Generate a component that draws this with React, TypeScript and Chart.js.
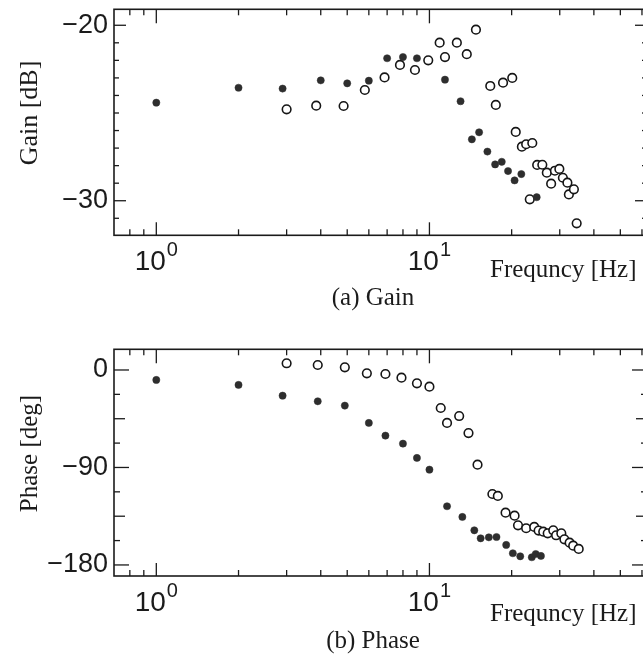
import React, { useEffect, useRef } from "react";
import { Chart, registerables } from "chart.js";

Chart.register(...registerables);

// ---------- data ----------
const gainFilledFreq = [1, 2, 2.9, 4, 5, 6, 7, 8, 9, 11.4, 13, 14.3, 15.2, 16.3, 17.4, 18.4, 19.4, 20.5, 21.7, 24.7];
const gainFilledDb = [-24.41, -23.56, -23.61, -23.14, -23.31, -23.16, -21.88, -21.81, -21.88, -23.1, -24.33, -26.5, -26.1, -27.2, -27.93, -27.78, -28.31, -28.84, -28.48, -29.8];

const gainOpenFreq = [3.0, 3.85, 4.85, 5.8, 6.85, 7.8, 8.85, 9.9, 10.9, 11.4, 12.6, 13.7, 14.8, 16.7, 17.5, 18.6, 20.1, 20.7, 21.8, 22.6, 23.3, 23.8, 24.8, 25.9, 26.9, 27.9, 28.8, 29.9, 30.8, 32.0, 32.4, 33.8, 34.6];
const gainOpenDb = [-24.79, -24.58, -24.6, -23.69, -22.97, -22.26, -22.55, -22.0, -20.99, -21.81, -20.99, -21.65, -20.25, -23.46, -24.54, -23.27, -23.0, -26.08, -26.92, -26.78, -29.92, -26.71, -27.96, -27.95, -28.4, -29.03, -28.29, -28.19, -28.69, -28.97, -29.64, -29.35, -31.29];

const phaseFilledFreq = [1, 2, 2.9, 3.9, 4.9, 6, 6.9, 8, 9, 10, 11.6, 13.2, 14.6, 15.4, 16.5, 17.6, 19.1, 20.2, 21.5, 23.7, 24.5, 25.6];
const phaseFilledDeg = [-9.2, -13.8, -23.7, -28.9, -32.9, -48.9, -60.6, -68, -81.2, -92, -125.8, -135.7, -148, -155.4, -154.5, -154.2, -161.5, -169.2, -172, -172.9, -169.9, -171.7];

const phaseOpenFreq = [3.0, 3.9, 4.9, 5.9, 6.9, 7.9, 9.0, 10.0, 11.0, 11.6, 12.85, 13.9, 15.0, 17.0, 17.8, 19.0, 20.5, 21.1, 22.6, 24.2, 25.1, 26.1, 27.1, 28.4, 29.1, 30.4, 31.2, 32.6, 33.6, 35.2];
const phaseOpenDeg = [6.2, 4.6, 2.5, -3.1, -3.7, -7.1, -12.3, -15.4, -35.1, -48.9, -42.5, -58.2, -87.4, -114.5, -116.3, -131.7, -134.5, -143.4, -146.1, -144.9, -148.3, -149.3, -150.8, -148, -152.6, -150.8, -156.3, -159.4, -162.2, -165.2];

const xMajorTicks = [1, 10];
const xMinorTicks = [0.8, 0.9, 2, 3, 4, 5, 6, 7, 8, 9, 20, 30, 40, 50, 60];
const xTickExponents = ["0", "1"];

const gainYTicks = [-31, -30, -29, -28, -27, -26, -25, -24, -23, -22, -21, -20];
const gainYLabels = [-30, -20];
const phaseYTicks = [-180, -157.5, -135, -112.5, -90, -67.5, -45, -22.5, 0];
const phaseYLabels = [-180, -90, 0];

const INK = "#1b1b1b";
const SANS = "'Liberation Sans', Arial, sans-serif";
const SERIF = "'Liberation Serif', 'Times New Roman', serif";

type Panel = {
  width: number;
  height: number;
  padTop: number;
  padBottom: number;
  yMin: number;
  yMax: number;
  yTicks: number[];
  yLabels: number[];
  yTickLen: (v: number) => number;
  yTitle: string;
  yTitleFont: number;
  yTitleCenterY: number;
  freqBaseline: number;
  caption: string;
  captionBaseline: number;
  filledX: number[];
  filledY: number[];
  openX: number[];
  openY: number[];
};

function fmt(v: number) {
  return v < 0 ? "\u2212" + Math.abs(v) : String(v);
}

function framePlugin(p: Panel) {
  return {
    id: "frameAndText",
    beforeDatasetsDraw(chart: any) {
      const { ctx, chartArea: a, scales } = chart;
      const xs = scales.x;
      const ys = scales.y;
      ctx.save();
      ctx.strokeStyle = INK;
      ctx.lineWidth = 1.6;
      ctx.strokeRect(a.left, a.top, a.right - a.left, a.bottom - a.top);
      ctx.lineWidth = 1.3;
      const seg = (x1: number, y1: number, x2: number, y2: number) => {
        ctx.beginPath();
        ctx.moveTo(x1, y1);
        ctx.lineTo(x2, y2);
        ctx.stroke();
      };
      xMinorTicks.forEach((v) => {
        const px = xs.getPixelForValue(v);
        seg(px, a.bottom, px, a.bottom - 6);
        seg(px, a.top, px, a.top + 6);
      });
      xMajorTicks.forEach((v) => {
        const px = xs.getPixelForValue(v);
        seg(px, a.bottom, px, a.bottom - 13);
        seg(px, a.top, px, a.top + 14);
      });
      p.yTicks.forEach((v) => {
        const py = ys.getPixelForValue(v);
        const len = p.yTickLen(v);
        seg(a.left, py, a.left + len, py);
        seg(a.right, py, a.right - len, py);
      });
      ctx.restore();
    },
    afterDraw(chart: any) {
      const { ctx, chartArea: a, scales } = chart;
      const xs = scales.x;
      ctx.save();
      ctx.fillStyle = INK;
      ctx.textBaseline = "alphabetic";
      // x tick labels 10^n
      xMajorTicks.forEach((v, i) => {
        const px = xs.getPixelForValue(v);
        ctx.font = `28px ${SANS}`;
        const wBase = ctx.measureText("10").width;
        ctx.font = `20px ${SANS}`;
        const wExp = ctx.measureText(xTickExponents[i]).width;
        const total = wBase + 1 + wExp;
        const x0 = px - total / 2;
        ctx.font = `28px ${SANS}`;
        ctx.textAlign = "left";
        ctx.fillText("10", x0, a.bottom + 35);
        ctx.font = `20px ${SANS}`;
        ctx.fillText(xTickExponents[i], x0 + wBase + 1, a.bottom + 21);
      });
      // x axis title
      ctx.font = `25px ${SERIF}`;
      ctx.textAlign = "left";
      ctx.fillText("Frequncy [Hz]", 490, p.freqBaseline);
      // caption
      ctx.textAlign = "center";
      ctx.font = `25px ${SERIF}`;
      ctx.fillText(p.caption, 373, p.captionBaseline);
      // y axis title
      ctx.translate(30, p.yTitleCenterY);
      ctx.rotate(-Math.PI / 2);
      ctx.textAlign = "center";
      ctx.textBaseline = "middle";
      ctx.font = `${p.yTitleFont}px ${SERIF}`;
      ctx.fillText(p.yTitle, 0, 0);
      ctx.restore();
    },
  };
}

function buildConfig(p: Panel): any {
  return {
    type: "scatter",
    data: {
      datasets: [
        {
          label: "filled",
          data: p.filledX.map((x, i) => ({ x, y: p.filledY[i] })),
          pointRadius: 3.6,
          pointBackgroundColor: "#2e2e2e",
          pointBorderColor: "#2e2e2e",
          pointBorderWidth: 0.5,
          showLine: false,
        },
        {
          label: "open",
          data: p.openX.map((x, i) => ({ x, y: p.openY[i] })),
          pointRadius: 4.3,
          pointBackgroundColor: "#ffffff",
          pointBorderColor: "#161616",
          pointBorderWidth: 1.6,
          showLine: false,
        },
      ],
    },
    options: {
      responsive: false,
      animation: false,
      events: [],
      layout: { padding: { left: 0, right: 13, top: p.padTop, bottom: p.padBottom } },
      plugins: { legend: { display: false }, tooltip: { enabled: false }, title: { display: false } },
      scales: {
        x: { type: "logarithmic", min: 0.7, max: 62.6, display: false },
        y: {
          type: "linear",
          min: p.yMin,
          max: p.yMax,
          afterBuildTicks: (s: any) => {
            s.ticks = p.yTicks.map((v) => ({ value: v }));
          },
          afterFit: (s: any) => {
            s.width = 114;
            s.paddingTop = 0;
            s.paddingBottom = 0;
          },
          grid: { display: false, drawTicks: false },
          border: { display: false },
          ticks: {
            autoSkip: false,
            padding: 6,
            color: INK,
            font: { family: SANS, size: 27 },
            callback: (v: number) => (p.yLabels.includes(v) ? fmt(v) : ""),
          },
        },
      },
    },
    plugins: [framePlugin(p)],
  };
}

const gainPanel: Panel = {
  width: 660,
  height: 320,
  padTop: 9.3,
  padBottom: 84.7,
  yMin: -31.97,
  yMax: -19.09,
  yTicks: gainYTicks,
  yLabels: gainYLabels,
  yTickLen: (v) => (v % 10 === 0 ? 12 : 5),
  yTitle: "Gain [dB]",
  yTitleFont: 26,
  yTitleCenterY: 113,
  freqBaseline: 277,
  caption: "(a) Gain",
  captionBaseline: 305,
  filledX: gainFilledFreq,
  filledY: gainFilledDb,
  openX: gainOpenFreq,
  openY: gainOpenDb,
};

const phasePanel: Panel = {
  width: 660,
  height: 340,
  padTop: 29.3,
  padBottom: 84,
  yMin: -190.2,
  yMax: 19.1,
  yTicks: phaseYTicks,
  yLabels: phaseYLabels,
  yTickLen: (v) => (v % 90 === 0 ? 15 : v % 45 === 0 ? 11 : 6),
  yTitle: "Phase [deg]",
  yTitleFont: 25,
  yTitleCenterY: 133.5,
  freqBaseline: 300.5,
  caption: "(b) Phase",
  captionBaseline: 328,
  filledX: phaseFilledFreq,
  filledY: phaseFilledDeg,
  openX: phaseOpenFreq,
  openY: phaseOpenDeg,
};

function PanelChart({ panel, top }: { panel: Panel; top: number }) {
  const ref = useRef<HTMLCanvasElement | null>(null);
  useEffect(() => {
    if (!ref.current) return;
    const chart = new Chart(ref.current, buildConfig(panel));
    return () => chart.destroy();
  }, [panel]);
  return (
    <canvas
      ref={ref}
      width={panel.width}
      height={panel.height}
      style={{ position: "absolute", left: 0, top, width: panel.width, height: panel.height, display: "block" }}
    />
  );
}

export default function App() {
  return (
    <div
      style={{
        position: "absolute",
        left: 0,
        top: 0,
        width: 643,
        height: 660,
        overflow: "hidden",
        background: "#ffffff",
      }}
    >
      <PanelChart panel={gainPanel} top={0} />
      <PanelChart panel={phasePanel} top={320} />
    </div>
  );
}
